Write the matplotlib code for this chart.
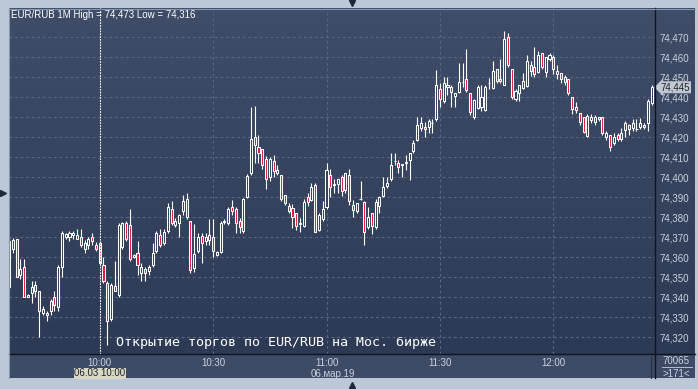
import matplotlib
matplotlib.use("Agg")
import matplotlib.pyplot as plt
import numpy as np
from matplotlib.patches import Rectangle
from matplotlib.lines import Line2D
from matplotlib.colors import LinearSegmentedColormap
import matplotlib.transforms as mtransforms

# ---------------- data ----------------
symbol_title = "EUR/RUB 1M"
# minutes relative to 10:00
minutes = list(range(-24, 147))
opens = [74.3450, 74.3640, 74.3690, 74.3510, 74.3550, 74.3410, 74.3420, 74.3430, 74.3430, 74.3320,
         74.3320, 74.3330, 74.3400, 74.3350, 74.3550, 74.3700, 74.3700, 74.3710, 74.3710, 74.3700,
         74.3640, 74.3660, 74.3700, 74.3660, 74.3670, 74.3560, 74.3470, 74.3290, 74.3455, 74.3410,
         74.3650, 74.3770, 74.3760, 74.3600, 74.3620, 74.3520, 74.3540, 74.3530, 74.3560, 74.3630,
         74.3710, 74.3670, 74.3730, 74.3840, 74.3760, 74.3770, 74.3830, 74.3890, 74.3780, 74.3545,
         74.3630, 74.3706, 74.3680, 74.3686, 74.3703, 74.3610, 74.3628, 74.3775, 74.3770, 74.3850,
         74.3840, 74.3780, 74.3730, 74.3900, 74.4020, 74.4200, 74.4150, 74.4140, 74.4090, 74.4000,
         74.4080, 74.4020, 74.4010, 74.3910, 74.3856, 74.3845, 74.3820, 74.3765, 74.3756, 74.3900,
         74.3886, 74.3960, 74.3736, 74.3790, 74.3850, 74.4010, 74.3960, 74.3966, 74.4000, 74.3936,
         74.4010, 74.3860, 74.3830, 74.3890, 74.3878, 74.3753, 74.3820, 74.3750, 74.3856, 74.3906,
         74.3956, 74.3990, 74.4080, 74.4070, 74.4060, 74.4070, 74.4086, 74.4130, 74.4186, 74.4245,
         74.4250, 74.4250, 74.4270, 74.4290, 74.4440, 74.4380, 74.4450, 74.4450, 74.4406, 74.4428,
         74.4475, 74.4490, 74.4420, 74.4300, 74.4345, 74.4350, 74.4336, 74.4470, 74.4445, 74.4540,
         74.4490, 74.4460, 74.4703, 74.4540, 74.4390, 74.4423, 74.4445, 74.4456, 74.4560, 74.4550,
         74.4528, 74.4620, 74.4528, 74.4590, 74.4600, 74.4533, 74.4520, 74.4500, 74.4490, 74.4400,
         74.4350, 74.4323, 74.4300, 74.4206, 74.4286, 74.4303, 74.4300, 74.4300, 74.4200, 74.4210,
         74.4170, 74.4210, 74.4190, 74.4236, 74.4260, 74.4245, 74.4240, 74.4250, 74.4260, 74.4270,
         74.4370]
highs = [74.3700, 74.3695, 74.3690, 74.3590, 74.3590, 74.3415, 74.3480, 74.3480, 74.3430, 74.3355,
         74.3330, 74.3390, 74.3430, 74.3560, 74.3730, 74.3720, 74.3730, 74.3730, 74.3740, 74.3740,
         74.3685, 74.3700, 74.3720, 74.3675, 74.3680, 74.3600, 74.3480, 74.3470, 74.3580, 74.3770,
         74.3775, 74.3780, 74.3840, 74.3615, 74.3680, 74.3570, 74.3550, 74.3560, 74.3670, 74.3730,
         74.3740, 74.3740, 74.3870, 74.3880, 74.3795, 74.3815, 74.3910, 74.3920, 74.3780, 74.3766,
         74.3723, 74.3723, 74.3720, 74.3790, 74.3790, 74.3630, 74.3780, 74.3790, 74.3850, 74.3887,
         74.3850, 74.3795, 74.3895, 74.4017, 74.4350, 74.4355, 74.4210, 74.4140, 74.4106, 74.4100,
         74.4110, 74.4060, 74.4010, 74.3910, 74.3870, 74.3866, 74.3820, 74.3795, 74.3890, 74.3920,
         74.3970, 74.3970, 74.3820, 74.3880, 74.4070, 74.4040, 74.3990, 74.3990, 74.4010, 74.4020,
         74.4040, 74.3886, 74.3870, 74.3980, 74.3880, 74.3850, 74.3820, 74.3890, 74.3906, 74.4000,
         74.4000, 74.4123, 74.4123, 74.4085, 74.4065, 74.4110, 74.4120, 74.4186, 74.4300, 74.4300,
         74.4278, 74.4290, 74.4290, 74.4536, 74.4473, 74.4500, 74.4500, 74.4460, 74.4423, 74.4573,
         74.4570, 74.4640, 74.4420, 74.4390, 74.4460, 74.4460, 74.4460, 74.4495, 74.4580, 74.4540,
         74.4590, 74.4730, 74.4720, 74.4540, 74.4440, 74.4460, 74.4520, 74.4610, 74.4580, 74.4650,
         74.4630, 74.4623, 74.4600, 74.4623, 74.4610, 74.4560, 74.4523, 74.4510, 74.4490, 74.4400,
         74.4378, 74.4323, 74.4300, 74.4316, 74.4316, 74.4310, 74.4300, 74.4300, 74.4230, 74.4210,
         74.4220, 74.4220, 74.4245, 74.4280, 74.4266, 74.4290, 74.4290, 74.4295, 74.4270, 74.4390,
         74.4460]
lows = [74.3430, 74.3620, 74.3500, 74.3490, 74.3400, 74.3400, 74.3370, 74.3400, 74.3200, 74.3310,
        74.3280, 74.3310, 74.3330, 74.3330, 74.3500, 74.3690, 74.3680, 74.3690, 74.3690, 74.3650,
        74.3620, 74.3640, 74.3660, 74.3630, 74.3560, 74.3470, 74.3160, 74.3280, 74.3430, 74.3400,
        74.3640, 74.3680, 74.3580, 74.3595, 74.3510, 74.3480, 74.3480, 74.3510, 74.3550, 74.3620,
        74.3650, 74.3660, 74.3720, 74.3760, 74.3750, 74.3700, 74.3810, 74.3790, 74.3520, 74.3528,
        74.3620, 74.3570, 74.3660, 74.3660, 74.3600, 74.3605, 74.3620, 74.3765, 74.3760, 74.3810,
        74.3720, 74.3720, 74.3720, 74.3895, 74.4010, 74.4070, 74.4070, 74.4040, 74.3940, 74.3980,
        74.4000, 74.4010, 74.3880, 74.3860, 74.3820, 74.3745, 74.3736, 74.3728, 74.3750, 74.3856,
        74.3880, 74.3730, 74.3730, 74.3780, 74.3840, 74.3900, 74.3920, 74.3920, 74.3907, 74.3920,
        74.3860, 74.3800, 74.3820, 74.3888, 74.3660, 74.3740, 74.3716, 74.3740, 74.3820, 74.3900,
        74.3945, 74.3980, 74.4060, 74.4020, 74.4000, 74.4036, 74.3986, 74.4120, 74.4180, 74.4230,
        74.4200, 74.4223, 74.4220, 74.4280, 74.4350, 74.4370, 74.4410, 74.4350, 74.4350, 74.4420,
        74.4450, 74.4428, 74.4310, 74.4290, 74.4340, 74.4330, 74.4330, 74.4440, 74.4440, 74.4470,
        74.4470, 74.4460, 74.4553, 74.4390, 74.4380, 74.4380, 74.4440, 74.4450, 74.4506, 74.4500,
        74.4523, 74.4540, 74.4500, 74.4580, 74.4516, 74.4490, 74.4470, 74.4460, 74.4410, 74.4316,
        74.4320, 74.4260, 74.4220, 74.4200, 74.4270, 74.4260, 74.4280, 74.4210, 74.4186, 74.4130,
        74.4160, 74.4180, 74.4180, 74.4200, 74.4210, 74.4230, 74.4230, 74.4240, 74.4240, 74.4230,
        74.4360]
closes = [74.3680, 74.3685, 74.3500, 74.3540, 74.3400, 74.3400, 74.3450, 74.3460, 74.3330, 74.3340,
          74.3310, 74.3380, 74.3360, 74.3550, 74.3720, 74.3715, 74.3720, 74.3720, 74.3690, 74.3660,
          74.3670, 74.3690, 74.3680, 74.3640, 74.3570, 74.3480, 74.3280, 74.3460, 74.3430, 74.3760,
          74.3770, 74.3690, 74.3590, 74.3610, 74.3560, 74.3550, 74.3520, 74.3550, 74.3620, 74.3720,
          74.3660, 74.3725, 74.3850, 74.3770, 74.3780, 74.3810, 74.3880, 74.3800, 74.3535, 74.3616,
          74.3700, 74.3670, 74.3703, 74.3710, 74.3630, 74.3625, 74.3770, 74.3780, 74.3840, 74.3830,
          74.3770, 74.3750, 74.3890, 74.4006, 74.4190, 74.4160, 74.4120, 74.4060, 74.3990, 74.4090,
          74.4030, 74.4035, 74.3890, 74.3870, 74.3830, 74.3800, 74.3756, 74.3770, 74.3878, 74.3878,
          74.3950, 74.3728, 74.3810, 74.3840, 74.4036, 74.3950, 74.3965, 74.3990, 74.3930, 74.4020,
          74.3880, 74.3836, 74.3870, 74.3893, 74.3728, 74.3800, 74.3756, 74.3878, 74.3900, 74.3950,
          74.3970, 74.4060, 74.4083, 74.4050, 74.4065, 74.4075, 74.4120, 74.4173, 74.4260, 74.4270,
          74.4240, 74.4280, 74.4273, 74.4460, 74.4390, 74.4470, 74.4460, 74.4428, 74.4420, 74.4478,
          74.4478, 74.4436, 74.4328, 74.4386, 74.4450, 74.4400, 74.4450, 74.4473, 74.4530, 74.4480,
          74.4480, 74.4690, 74.4560, 74.4400, 74.4433, 74.4460, 74.4480, 74.4580, 74.4530, 74.4516,
          74.4610, 74.4550, 74.4600, 74.4610, 74.4540, 74.4516, 74.4490, 74.4478, 74.4420, 74.4340,
          74.4336, 74.4278, 74.4228, 74.4306, 74.4300, 74.4278, 74.4290, 74.4220, 74.4220, 74.4150,
          74.4200, 74.4190, 74.4220, 74.4270, 74.4240, 74.4270, 74.4243, 74.4270, 74.4250, 74.4380,
          74.4450]

time_ticks = [0, 30, 60, 90, 120]
time_labels = ["10:00", "10:30", "11:00", "11:30", "12:00"]
price_ticks = [74.32, 74.33, 74.34, 74.35, 74.36, 74.37, 74.38, 74.39,
               74.40, 74.41, 74.42, 74.43, 74.44, 74.45, 74.46, 74.47]
price_labels = ["74,320", "74,330", "74,340", "74,350", "74,360", "74,370", "74,380", "74,390",
                "74,400", "74,410", "74,420", "74,430", "74,440", "74,450", "74,460", "74,470"]
event_text = "Открытие торгов по EUR/RUB на Мос. бирже"
cursor_label = "06.03 10:00"
date_label = "06.мар.19"
volume_label = "70065"

# ---------------- figure ----------------
W, H = 698, 389
SMALL_FONT = ["Liberation Sans", "DejaVu Sans"]
FS = 7.0
plt.rcParams["font.family"] = SMALL_FONT

fig = plt.figure(figsize=(W / 100, H / 100), dpi=100)
fig.patch.set_facecolor("#BCC8D7")

def fx(px):
    return px / W

def fy(py):
    return 1 - py / H

TXT = "#C9D1DD"

# background panel with gradient
bg = fig.add_axes([fx(9), fy(378), fx(686), (370) / H])
grad = np.linspace(0, 1, 256).reshape(-1, 1)
cmap = LinearSegmentedColormap.from_list("bgc", ["#3F4D68", "#2C3955"])
bg.imshow(grad, aspect="auto", cmap=cmap, extent=[0, 1, 0, 1], origin="upper")
bg.set_axis_off()

# time strip
fig.patches.append(Rectangle((fx(9), fy(378)), fx(686), 24 / H, transform=fig.transFigure,
                             facecolor="#3D4B66", edgecolor="none", zorder=1))

# main axes
ax = fig.add_axes([fx(9), fy(354), fx(646), 346 / H])
ax.set_facecolor("none")
ax.set_zorder(2)

x = np.array(minutes, dtype=float)
o = np.array(opens)
h = np.array(highs)
l = np.array(lows)
c = np.array(closes)
up = c >= o
lo_b = np.minimum(o, c)
hi_b = np.maximum(o, c)

# grid
for yv in price_ticks:
    ax.axhline(yv, color="#586682", lw=0.8, linestyle=(0, (2.5, 2.5)), zorder=1)
for xv in time_ticks[1:]:
    ax.axvline(xv, color="#586682", lw=0.8, linestyle=(0, (2.5, 2.5)), zorder=1)
ax.axvline(time_ticks[0], color="#FFFFFF", lw=0.8, linestyle=(0, (1.5, 1.0)), zorder=4)

# candles
ax.vlines(x, hi_b, h, color="white", lw=0.8, zorder=2)
ax.vlines(x, l, lo_b, color="white", lw=0.8, zorder=2)
heights = np.maximum(hi_b - lo_b, 0.0002)
face = np.where(up, "#33405B", "#E3173E")
ax.bar(x, heights, bottom=lo_b, width=0.55, color=face, edgecolor="white", lw=0.75, zorder=3)

ax.set_xlim(-24.0, 146.9)
ax.set_ylim(74.31165, 74.48465)

for s in ax.spines.values():
    s.set_visible(False)

ax.yaxis.tick_right()
ax.set_yticks(price_ticks)
ax.set_yticklabels(price_labels)
ax.tick_params(axis="y", length=0, pad=3, labelsize=FS, labelcolor=TXT)
ax.set_xticks(time_ticks)
ax.set_xticklabels(time_labels)
ax.tick_params(axis="x", length=0, pad=3.2, labelsize=FS, labelcolor=TXT)

hi_all = max(highs)
lo_all = min(lows)
title = f"{symbol_title} High = {hi_all:.3f} Low = {lo_all:.3f}".replace(".", ",")
ax.text(0.003, 0.98, title, transform=ax.transAxes, color="white", fontsize=FS,
        ha="left", va="center", zorder=6)

trans = mtransforms.blended_transform_factory(ax.transData, ax.transAxes)
ax.text(4.3, 0.032, event_text, transform=trans, color="white", fontsize=9.6,
        family="DejaVu Sans Mono", ha="left", va="center", zorder=6)

# cursor date box
ax.text(0, -0.0555, cursor_label, transform=trans, color="#1A2233", fontsize=FS,
        ha="center", va="center", clip_on=False, zorder=6,
        bbox=dict(boxstyle="square,pad=0.06", fc="#D9D8C3", ec="none"))
ax.text(61.7, -0.058, date_label, transform=trans, color=TXT, fontsize=FS,
        ha="center", va="center", clip_on=False, zorder=6)

# current price tag
last = closes[-1]
ax.annotate(f"{last:.3f}".replace(".", ","), xy=(1.0, last), xycoords=("axes fraction", "data"),
            xytext=(4, 0), textcoords="offset points", color="#1B2433", fontsize=FS,
            ha="left", va="center", annotation_clip=False, zorder=7,
            bbox=dict(boxstyle="larrow,pad=0.1", fc="#C3C8D0", ec="none"))

# frame lines
def fline(x0, y0, x1, y1, color, lw=1.0):
    fig.lines.append(Line2D([fx(x0), fx(x1)], [fy(y0), fy(y1)], transform=fig.transFigure,
                            color=color, lw=lw, zorder=10))

fline(9, 354, 695, 354, "#0E1520", 1.0)
fline(655, 8, 655, 378, "#0E1520", 1.0)
fline(8.5, 8, 8.5, 378, "#8596AE", 0.8)
fline(9, 8.5, 695, 8.5, "#8596AE", 0.8)
fline(651, 357, 651, 378, "#26303F", 0.8)
fline(662, 366.5, 692, 366.5, TXT, 0.6)

fig.text(fx(676), fy(360.5), volume_label, color=TXT, fontsize=FS, ha="center", va="center")
fig.text(fx(676), fy(373.8), f">{len(closes)}<", color=TXT, fontsize=FS, ha="center", va="center")

# small navigation triangles
fig.lines.append(Line2D([fx(352)], [fy(3)], marker="v", markersize=5, color="#1E2838",
                        transform=fig.transFigure, linestyle="none"))
fig.lines.append(Line2D([fx(352)], [fy(385)], marker="^", markersize=5, color="#1E2838",
                        transform=fig.transFigure, linestyle="none"))
fig.lines.append(Line2D([fx(3)], [fy(193)], marker=">", markersize=5, color="#1E2838",
                        transform=fig.transFigure, linestyle="none"))

fig.savefig("out.png", dpi=100, facecolor=fig.get_facecolor())
